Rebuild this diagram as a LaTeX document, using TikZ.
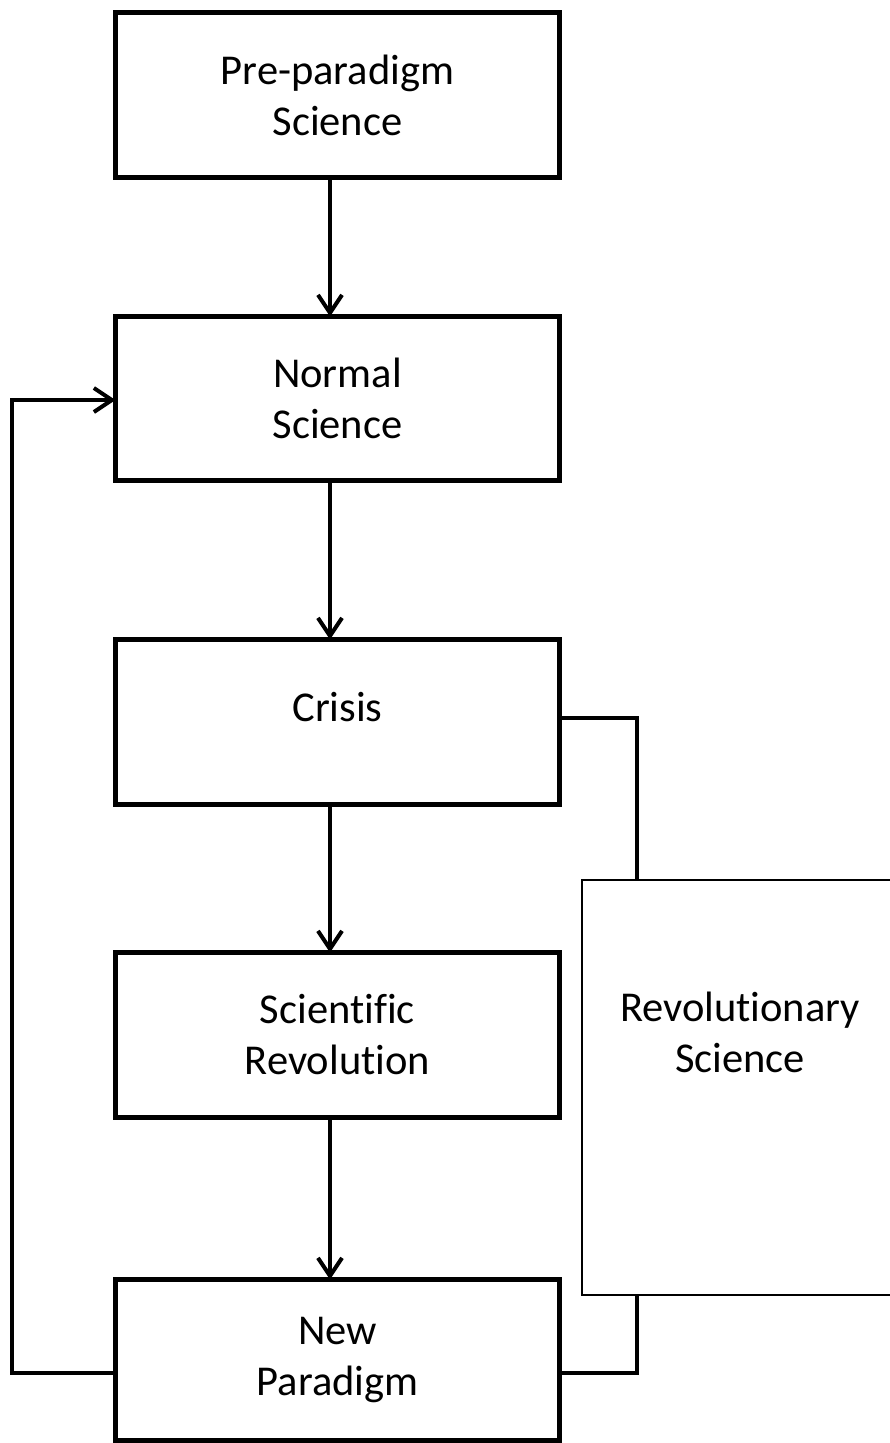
\documentclass[tikz,border=0pt]{standalone}
\usepackage{fontspec}
\setmainfont[Ligatures={NoCommon,NoContextual}]{Carlito}
\usetikzlibrary{arrows.meta}
\begin{document}
\begin{tikzpicture}[x=1pt,y=-1pt,
  box/.style={draw,line width=5pt,minimum width=444pt,inner sep=0pt,outer sep=0pt,align=center,font=\fontsize{42.5}{51}\selectfont},
  txt/.style={align=center,font=\fontsize{42.5}{51}\selectfont,inner sep=0pt},
  conn/.style={line width=4pt},
  arr/.style={conn,-{Straight Barb[length=18pt,width=24pt]}},
]
\clip (0,0) rectangle (890,1443);
\node[box,minimum height=165pt] (pre) at (337.5,95) {Pre-paradigm\\Science};
\node[box,minimum height=164pt] (normal) at (337.5,398.5) {Normal\\Science};
\node[box,minimum height=165pt] (crisis) at (337.5,722) {};
\node[txt,anchor=base] (crisist) at (337.5,721) {Crisis};
\node[box,minimum height=165pt] (scirev) at (337.5,1035) {Scientific\\Revolution};
\node[box,minimum height=161pt] (newp) at (337.5,1360) {New\\Paradigm};
\node[draw,line width=1.5pt,minimum width=316pt,minimum height=415pt,inner sep=0pt,outer sep=0pt] (rev) at (740,1087.5) {};
\node[txt] (revt) at (740,1032) {Revolutionary\\Science};
\coordinate (ax) at (330,0);
\draw[arr] (pre.south -| ax) -- (normal.north -| ax);
\draw[arr] (normal.south -| ax) -- (crisis.north -| ax);
\draw[arr] (crisis.south -| ax) -- (scirev.north -| ax);
\draw[arr] (scirev.south -| ax) -- (newp.north -| ax);
\coordinate (lb) at (12,1373);
\coordinate (lt) at (12,400);
\draw[arr] (newp.west |- lb) -- (lb) -- (lt) -- (normal.west |- lt);
\coordinate (rt) at (637,718);
\coordinate (rb) at (637,1373);
\draw[conn] (crisis.east |- rt) -- (rt) -- (rev.north -| rt);
\draw[conn] (rev.south -| rb) -- (rb) -- (newp.east |- rb);
\end{tikzpicture}
\end{document}
